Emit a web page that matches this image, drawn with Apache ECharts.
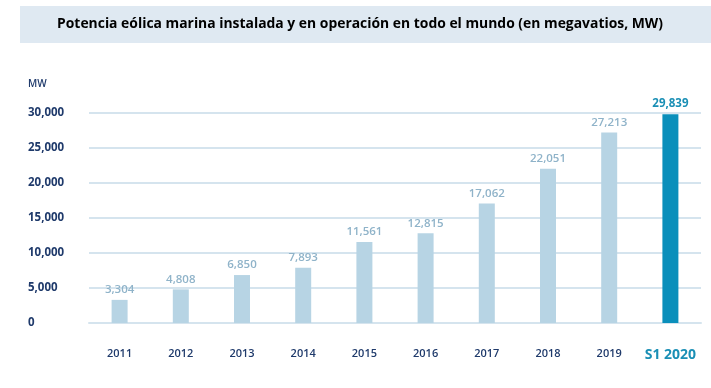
<!DOCTYPE html>
<html><head><meta charset="utf-8">
<script src="https://cdn.jsdelivr.net/npm/echarts@6/dist/echarts.min.js"></script>
<style>html,body{margin:0;padding:0;background:#fff}#c{width:711px;height:388px}</style>
</head><body><div id="c"></div>
<script>
const categories = ['2011','2012','2013','2014','2015','2016','2017','2018','2019','S1 2020'];
const values = [3304, 4808, 6850, 7893, 11561, 12815, 17062, 22051, 27213, 29839];
const yTicks = [0, 5000, 10000, 15000, 20000, 25000, 30000];
const titleText = 'Potencia eólica marina instalada y en operación en todo el mundo (en megavatios, MW)';
const unitText = 'MW';

const last = categories.length - 1;
const chart = echarts.init(document.getElementById('c'), null, {renderer: 'canvas'});
const fmt = v => v.toLocaleString('en-US');
chart.setOption({
  animation: false,
  graphic: [
    {type: 'rect', shape: {x: 20, y: 6, width: 691, height: 37}, style: {fill: '#dfe9f2'}},
    {type: 'text', x: 360, y: 24, style: {text: titleText, font: 'bold 13.9px "Open Sans"', fill: '#000', align: 'center', verticalAlign: 'middle'}},
    {type: 'text', left: 28, top: 79, style: {text: unitText, font: '600 10px "Open Sans"', fill: '#1f3a6b'}}
  ],
  grid: {left: 89, right: 10, top: 113, bottom: 65, containLabel: false},
  xAxis: {
    type: 'category', data: categories,
    axisLine: {show: true, lineStyle: {color: '#d5e4ee', width: 2}},
    axisTick: {show: false},
    axisLabel: {
      interval: 0,
      margin: 25,
      formatter: (v, i) => i === last ? '{b|' + v + '}' : '{a|' + v + '}',
      rich: {
        a: {color: '#1f3a6b', fontFamily: 'Open Sans', fontWeight: 600, fontSize: 11},
        b: {color: '#1a8fb5', fontFamily: 'Open Sans', fontWeight: 'bold', fontSize: 14}
      }
    }
  },
  yAxis: {
    type: 'value', min: yTicks[0], max: yTicks[yTicks.length - 1], interval: yTicks[1] - yTicks[0],
    axisLine: {show: false}, axisTick: {show: false},
    splitLine: {lineStyle: {color: '#d5e4ee', width: 2}},
    axisLabel: {align: 'left', margin: 61, color: '#1f3a6b', fontFamily: 'Open Sans', fontWeight: 'bold', fontSize: 11.5, formatter: fmt}
  },
  series: [{
    type: 'bar', barWidth: 16,
    data: values.map((v, i) => ({
      value: v,
      itemStyle: {color: i === last ? '#0a8fbb' : '#b7d4e4'},
      label: i === last ? {color: '#1a8fb5', fontWeight: 'bold'} : {}
    })),
    label: {show: true, position: 'top', distance: 4, color: '#8fb3c9', fontFamily: 'Open Sans', fontWeight: 600, fontSize: 11.5,
      formatter: p => fmt(p.value)}
  }]
});
</script></body></html>
